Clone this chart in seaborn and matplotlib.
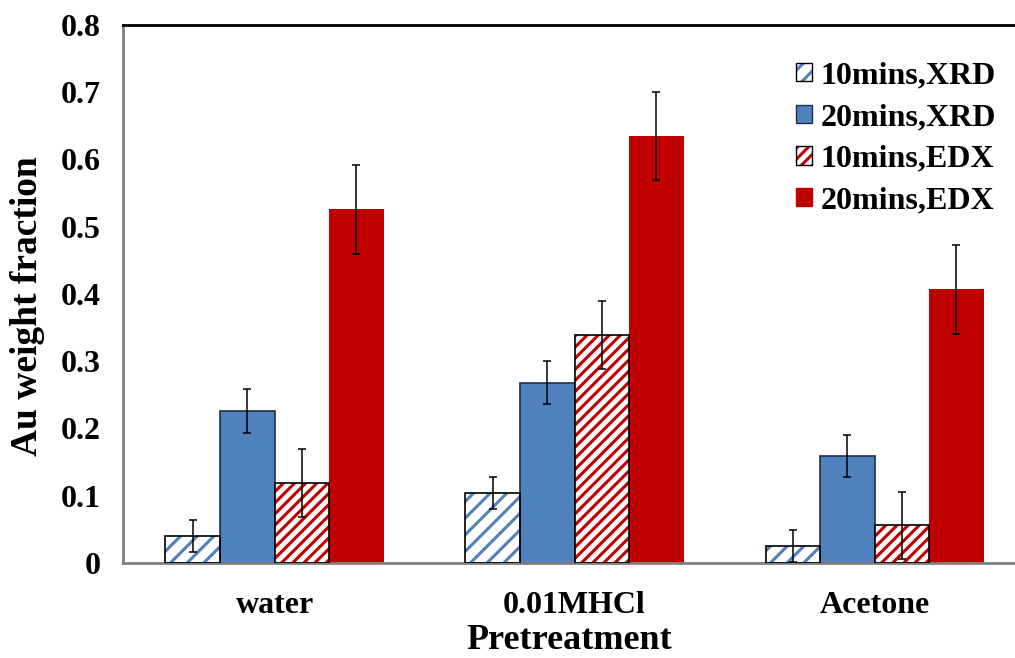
# Au weight fraction by pretreatment, grouped bars with error bars

import matplotlib
matplotlib.use('Agg')
import matplotlib.pyplot as plt
import matplotlib.patches as mpatches
import pandas as pd
import seaborn as sns

# data
pretreatments = ['water', '0.01MHCl', 'Acetone']
series_names = ['10mins,XRD', '20mins,XRD', '10mins,EDX', '20mins,EDX']
xrd_10 = [0.040, 0.104, 0.025]
xrd_20 = [0.226, 0.268, 0.159]
edx_10 = [0.119, 0.339, 0.056]
edx_20 = [0.526, 0.635, 0.407]
err_xrd_10 = [0.024, 0.024, 0.024]
err_xrd_20 = [0.032, 0.032, 0.031]
err_edx_10 = [0.050, 0.050, 0.050]
err_edx_20 = [0.066, 0.066, 0.066]
y_ticks = [0, 0.1, 0.2, 0.3, 0.4, 0.5, 0.6, 0.7, 0.8]
y_tick_labels = ['0', '0.1', '0.2', '0.3', '0.4', '0.5', '0.6', '0.7', '0.8']

BLUE = '#4F81BD'
RED = '#C00000'
DARK_EDGE = '#1f2f45'
series_colors = [BLUE, BLUE, RED, RED]
series_hatch = ['//', None, '///', None]


def build_frame():
    rows = []
    values = [xrd_10, xrd_20, edx_10, edx_20]
    for name, vals in zip(series_names, values):
        for cat, v in zip(pretreatments, vals):
            rows.append({'pretreatment': cat, 'series': name, 'value': v})
    return pd.DataFrame(rows)


def main():
    sns.set_theme(style='white')
    plt.rcParams['font.family'] = ['Liberation Serif', 'DejaVu Serif']
    plt.rcParams['font.weight'] = 'bold'
    plt.rcParams['text.color'] = 'black'
    plt.rcParams['axes.labelcolor'] = 'black'
    plt.rcParams['xtick.color'] = 'black'
    plt.rcParams['ytick.color'] = 'black'
    plt.rcParams['hatch.linewidth'] = 2.2

    df = build_frame()
    errors = [err_xrd_10, err_xrd_20, err_edx_10, err_edx_20]

    fig = plt.figure(figsize=(10.15, 6.58), dpi=100)
    ax = fig.add_axes([0.1212, 0.1444, 0.8788, 0.8176])

    sns.barplot(data=df, x='pretreatment', y='value', hue='series',
                order=pretreatments, hue_order=series_names,
                palette=series_colors, saturation=1, width=0.727,
                errorbar=None, legend=False, ax=ax)

    bar_groups = list(ax.containers)
    for i, cont in enumerate(bar_groups):
        for p in cont.patches:
            if series_hatch[i]:
                p.set_facecolor('white')
                p.set_edgecolor(series_colors[i])
                p.set_hatch(series_hatch[i])
                p.set_linewidth(0)
                ax.add_patch(mpatches.Rectangle(p.get_xy(), p.get_width(), p.get_height(),
                                                fill=False, edgecolor='black', lw=1.2, zorder=3))
            elif i == 1:
                p.set_edgecolor(DARK_EDGE)
                p.set_linewidth(1.2)
            else:
                p.set_edgecolor(RED)
                p.set_linewidth(0)

    # error bars placed on seaborn's bar centres
    for i, cont in enumerate(bar_groups):
        xs = [p.get_x() + p.get_width() / 2 for p in cont.patches]
        ys = [p.get_height() for p in cont.patches]
        ax.errorbar(xs, ys, yerr=errors[i], fmt='none', ecolor='black',
                    elinewidth=1.1, capsize=3, capthick=1.1, zorder=4)

    ax.set_xlim(-0.505, 2.468)
    ax.set_ylim(0, 0.8)
    ax.set_yticks(y_ticks)
    ax.set_yticklabels(y_tick_labels)
    ax.tick_params(axis='y', direction='in', length=5, width=1, color='#808080',
                   labelcolor='black', labelsize=23, pad=16)
    ax.tick_params(axis='x', length=0, labelcolor='black', labelsize=23, pad=20)
    for lab in ax.get_xticklabels() + ax.get_yticklabels():
        lab.set_fontweight('bold')

    ax.set_xlabel('Pretreatment', fontsize=26, fontweight='bold', labelpad=3)
    ax.set_ylabel('Au weight fraction', fontsize=27, fontweight='bold')
    ax.yaxis.set_label_coords(-0.087, 0.478)

    for side in ['left', 'bottom']:
        ax.spines[side].set_color('#808080')
        ax.spines[side].set_linewidth(2)
    ax.spines['top'].set_color('black')
    ax.spines['top'].set_linewidth(2)
    ax.spines['right'].set_visible(False)

    handles = []
    for i in range(4):
        if series_hatch[i]:
            h = (mpatches.Patch(facecolor='white', edgecolor=series_colors[i],
                                hatch=series_hatch[i], lw=0),
                 mpatches.Patch(fill=False, edgecolor='black', lw=1))
        else:
            h = mpatches.Patch(facecolor=series_colors[i],
                               edgecolor=DARK_EDGE if i == 1 else series_colors[i], lw=1)
        handles.append(h)
    ax.legend(handles=handles, labels=series_names, loc='upper right',
              bbox_to_anchor=(1.007, 0.98), frameon=False,
              prop={'family': 'Liberation Serif', 'weight': 'bold', 'size': 23},
              handlelength=0.5, handleheight=0.5, handletextpad=0.25,
              labelspacing=0.4, borderpad=0.3)

    fig.savefig('out.png', dpi=100)
    plt.close(fig)


if __name__ == '__main__':
    main()
